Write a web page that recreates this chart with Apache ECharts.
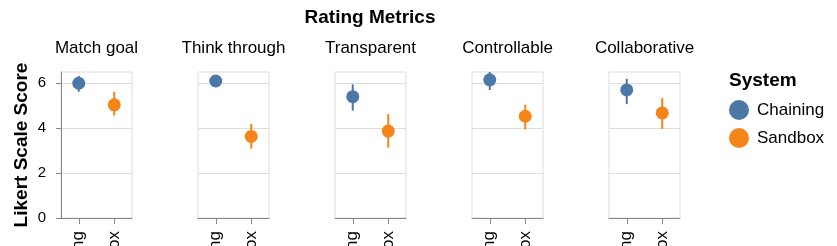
<!DOCTYPE html>
<html>
<head>
<meta charset="utf-8">
<script src="https://cdn.jsdelivr.net/npm/echarts@6/dist/echarts.min.js"></script>
<style>html,body{margin:0;padding:0;background:#fff}#c{width:837px;height:246px}</style>
</head>
<body>
<div id="c"></div>
<script>
const metrics = ['Match goal', 'Think through', 'Transparent', 'Controllable', 'Collaborative'];
const systems = ['Chaining', 'Sandbox'];
const chainingMean = [6.0, 6.1, 5.4, 6.15, 5.7];
const chainingLow = [5.62, 5.9, 4.78, 5.7, 5.07];
const chainingHigh = [6.32, 6.3, 5.95, 6.5, 6.2];
const sandboxMean = [5.04, 3.63, 3.87, 4.53, 4.68];
const sandboxLow = [4.56, 3.09, 3.13, 3.94, 3.97];
const sandboxHigh = [5.62, 4.19, 4.63, 5.04, 5.34];
const yTicks = [0, 2, 4, 6];

const colors = { Chaining: '#4c78a8', Sandbox: '#f58518' };
const FONT = '"Liberation Sans", Arial, Helvetica, sans-serif';
const stats = {
  Chaining: { mean: chainingMean, low: chainingLow, high: chainingHigh },
  Sandbox: { mean: sandboxMean, low: sandboxLow, high: sandboxHigh }
};

const PANEL_LEFT = 61, PANEL_STEP = 137, PANEL_W = 71, PANEL_TOP = 72, PANEL_H = 146;

const grids = [], xAxes = [], yAxes = [], titles = [], series = [];
titles.push({ text: 'Rating Metrics', left: 370, textAlign: 'center', top: 8, padding: 0, textStyle: { fontFamily: FONT, fontSize: 19, fontWeight: 'bold', color: '#000' } });
titles.push({ text: 'System', left: 729, top: 71, padding: 0, textStyle: { fontFamily: FONT, fontSize: 19, fontWeight: 'bold', color: '#000' } });

metrics.forEach((m, i) => {
  const left = PANEL_LEFT + PANEL_STEP * i;
  grids.push({ left: left, top: PANEL_TOP, width: PANEL_W, height: PANEL_H, show: true, borderColor: '#ddd', borderWidth: 1, containLabel: false, outerBoundsMode: 'none' });
  titles.push({ text: m, left: left + PANEL_W / 2, textAlign: 'center', top: 40, padding: 0, textStyle: { fontFamily: FONT, fontSize: 17, fontWeight: 'normal', color: '#000' } });
  xAxes.push({
    type: 'category', gridIndex: i, data: systems, boundaryGap: true,
    axisLine: { show: true, lineStyle: { color: '#888', width: 1 } },
    axisTick: { show: true, alignWithLabel: true, length: 6, lineStyle: { color: '#888' } },
    axisLabel: { rotate: 90, margin: 13, fontFamily: FONT, fontSize: 17, color: '#000' },
    splitLine: { show: false }
  });
  yAxes.push({
    type: 'value', gridIndex: i, min: 0, max: 6.5,
    name: i === 0 ? 'Likert Scale Score' : '',
    nameLocation: 'middle', nameGap: 30,
    nameTextStyle: { fontFamily: FONT, fontSize: 19, fontWeight: 'bold', color: '#000' },
    axisLine: { show: i === 0, lineStyle: { color: '#888' } },
    axisTick: { show: i === 0, length: 5, lineStyle: { color: '#888' }, customValues: yTicks },
    axisLabel: { show: i === 0, margin: 15, fontFamily: FONT, fontSize: 15, color: '#000', customValues: yTicks },
    splitLine: { show: true, lineStyle: { color: '#ddd', width: 1 } }
  });
  systems.forEach((s, j) => {
    series.push({
      name: s, type: 'scatter', xAxisIndex: i, yAxisIndex: i,
      symbol: 'circle', symbolSize: 13, z: 3,
      itemStyle: { color: colors[s], opacity: 1 },
      data: [[j, stats[s].mean[i]]]
    });
  });
});

metrics.forEach((m, i) => {
  systems.forEach((s, j) => {
    series.push({
      name: s, type: 'custom', xAxisIndex: i, yAxisIndex: i, z: 2,
      data: [[j, stats[s].low[i], stats[s].high[i]]],
      renderItem: function (params, api) {
        const p1 = api.coord([api.value(0), api.value(1)]);
        const p2 = api.coord([api.value(0), api.value(2)]);
        return { type: 'line', shape: { x1: p1[0], y1: p1[1], x2: p2[0], y2: p2[1] }, style: { stroke: colors[s], lineWidth: 2 } };
      },
      encode: { x: 0, y: [1, 2] }
    });
  });
});

const chart = echarts.init(document.getElementById('c'), null, { renderer: 'canvas' });
chart.setOption({
  animation: false,
  backgroundColor: '#fff',
  title: titles,
  grid: grids,
  xAxis: xAxes,
  yAxis: yAxes,
  legend: {
    data: systems, orient: 'vertical', left: 729, top: 100, padding: 0,
    itemWidth: 20, itemHeight: 20, itemGap: 8, icon: 'circle',
    textStyle: { fontFamily: FONT, fontSize: 17, color: '#000', padding: [0, 0, 0, 3] }
  },
  series: series
});
</script>
</body>
</html>
